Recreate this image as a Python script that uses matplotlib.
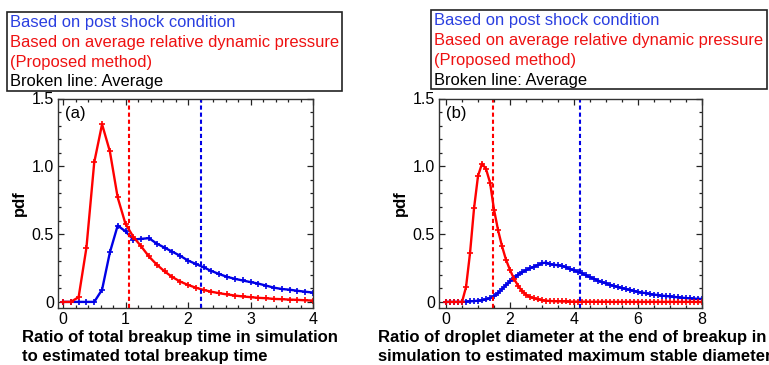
import numpy as np
import matplotlib
matplotlib.use('Agg')
import matplotlib.pyplot as plt
from matplotlib.patches import Rectangle
from matplotlib.ticker import MultipleLocator, FuncFormatter

plt.rcParams['font.family'] = ['Liberation Sans', 'DejaVu Sans']

# (a) breakup time ratio, bins of 0.125
x_a = np.arange(33) * 0.125
red_a = [0, 0, 0.035, 0.40, 1.03, 1.31, 1.11, 0.77, 0.575, 0.48, 0.41, 0.335, 0.275,
         0.225, 0.183, 0.15, 0.125, 0.105, 0.088, 0.075, 0.064, 0.055, 0.047, 0.040,
         0.035, 0.030, 0.027, 0.022, 0.020, 0.017, 0.015, 0.012, 0.010]
blue_a = [0, 0, 0, 0, 0, 0.09, 0.365, 0.563, 0.52, 0.46, 0.465, 0.47, 0.43, 0.40, 0.37,
          0.34, 0.305, 0.28, 0.255, 0.228, 0.205, 0.185, 0.17, 0.158, 0.146, 0.135,
          0.12, 0.105, 0.095, 0.09, 0.082, 0.075, 0.069]
mean_red_a = 1.05
mean_blue_a = 2.2

# (b) droplet diameter ratio, bins of 0.125
x_b = np.arange(65) * 0.125
red_b = [0, 0, 0, 0, 0, 0.11, 0.36, 0.69, 0.93, 1.02, 0.98, 0.88, 0.68, 0.53, 0.41, 0.31,
         0.235, 0.17, 0.12, 0.08, 0.053, 0.037, 0.026, 0.018, 0.013, 0.009, 0.007, 0.005,
         0.004, 0.003, 0.003, 0.002, 0.002, 0.002, 0.002, 0.001, 0.001, 0.001, 0.001,
         0.001, 0.001, 0, 0, 0, 0, 0, 0, 0, 0, 0, 0, 0, 0, 0, 0, 0, 0, 0, 0, 0, 0, 0, 0, 0, 0]
blue_b = [0, 0, 0, 0, 0, 0.002, 0.004, 0.006, 0.009, 0.012, 0.018, 0.028, 0.042, 0.065,
          0.095, 0.125, 0.152, 0.178, 0.2, 0.218, 0.234, 0.248, 0.26, 0.272, 0.285, 0.29,
          0.278, 0.274, 0.27, 0.266, 0.255, 0.242, 0.232, 0.222, 0.21, 0.196, 0.182, 0.17,
          0.157, 0.146, 0.136, 0.126, 0.118, 0.11, 0.102, 0.095, 0.088, 0.081, 0.074,
          0.069, 0.064, 0.058, 0.054, 0.05, 0.046, 0.043, 0.04, 0.037, 0.034, 0.031,
          0.028, 0.026, 0.024, 0.023, 0.022]
mean_red_b = 1.46
mean_blue_b = 4.18

legend_lines = ['Based on post shock condition',
                'Based on average relative dynamic pressure',
                '(Proposed method)',
                'Broken line: Average']
legend_colors = ['#2a3fe0', '#ee1111', '#ee1111', 'black']
xlabel_a = 'Ratio of total breakup time in simulation\nto estimated total breakup time'
xlabel_b = ('Ratio of droplet diameter at the end of breakup in\n'
            'simulation to estimated maximum stable diameter')

W, H = 769, 365
RED = '#ff0000'
BLUE = '#0000e6'

fig = plt.figure(figsize=(W / 100, H / 100), dpi=100)


def px(x, y):
    return x / W, 1 - y / H


def ytick_fmt(v, pos):
    return '0' if abs(v) < 1e-9 else '%.1f' % v


def make_panel(rect, x, red, blue, mred, mblue, xlo, xmax, xmaj, xmin, tag):
    ax = fig.add_axes(rect)
    ax.plot(x, blue, color=BLUE, lw=1.7, marker='+', ms=4, mew=1.2)
    ax.plot(x, red, color=RED, lw=1.7, marker='+', ms=4, mew=1.2)
    ax.axvline(mred, color=RED, lw=1.5, ls=(0, (2.0, 1.4)))
    ax.axvline(mblue, color=BLUE, lw=1.5, ls=(0, (2.0, 1.4)))
    ax.set_xlim(xlo, xmax)
    ax.set_ylim(-0.045, 1.5)
    ax.xaxis.set_major_locator(MultipleLocator(xmaj))
    ax.xaxis.set_minor_locator(MultipleLocator(xmin))
    ax.yaxis.set_major_locator(MultipleLocator(0.5))
    ax.yaxis.set_minor_locator(MultipleLocator(0.1))
    ax.yaxis.set_major_formatter(FuncFormatter(ytick_fmt))
    ax.tick_params(which='both', direction='in', top=True, right=True,
                   labelsize=11.5, width=0.9, colors='#222222', labelcolor='black')
    ax.tick_params(which='major', length=4.5, pad=3)
    ax.tick_params(which='minor', length=2.3)
    for s in ax.spines.values():
        s.set_linewidth(1.0)
        s.set_color('#333333')
    ax.set_ylabel('pdf', fontsize=12, fontweight='bold', labelpad=3)
    ax.text(0.027, 0.93, tag, transform=ax.transAxes, fontsize=12, va='center')
    return ax


ax1 = make_panel([58 / W, 1 - 308 / H, 255 / W, 209.5 / H], x_a, red_a, blue_a,
                 mean_red_a, mean_blue_a, -0.08, 4, 1, 0.2, '(a)')
ax2 = make_panel([439 / W, 1 - 308 / H, 263 / W, 209.5 / H], x_b, red_b, blue_b,
                 mean_red_b, mean_blue_b, -0.22, 8, 2, 0.5, '(b)')

# x labels, left aligned two lines
for xl, lab in [(22, xlabel_a), (378, xlabel_b)]:
    fx, fy = px(xl, 347)
    fig.text(fx, fy, lab, ha='left', va='center', fontsize=12, fontweight='bold',
             linespacing=1.32)

# legend boxes drawn by hand
boxes = [((7, 12, 342, 91), 10, [22.7, 42.3, 62.7, 81.7]),
         ((431, 10, 767, 89), 434, [20.7, 40.7, 61, 81])]
for (x0, y0, x1, y1), tx, ys in boxes:
    fx0, fy1 = px(x0, y1)
    fig.add_artist(Rectangle((fx0, fy1), (x1 - x0) / W, (y1 - y0) / H,
                             transform=fig.transFigure, fill=False,
                             edgecolor='#222222', lw=1.2))
    for txt, col, yy in zip(legend_lines, legend_colors, ys):
        fx, fy = px(tx, yy)
        fig.text(fx, fy, txt, color=col, fontsize=11.9, ha='left', va='center')

fig.savefig('out.png', dpi=100)
